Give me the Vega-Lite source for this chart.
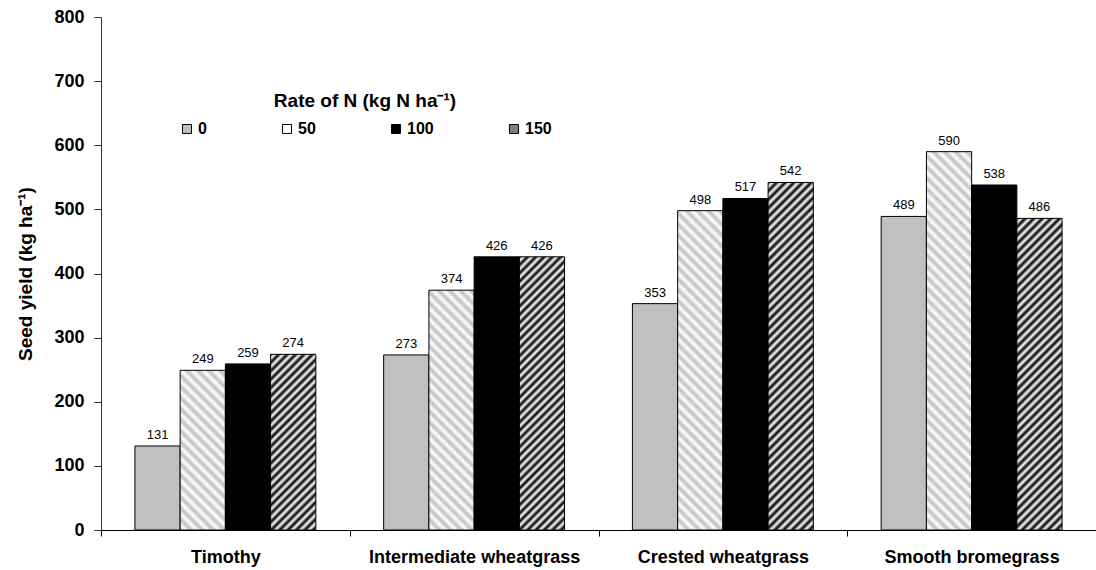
{
  "$schema": "https://vega.github.io/schema/vega-lite/v6.json",
  "width": 995,
  "height": 513,
  "autosize": "none",
  "padding": {"left": 101, "top": 17, "right": 0, "bottom": 40},
  "background": "white",
  "config": {"view": {"stroke": null}, "font": "Liberation Sans"},
  "data": {"values": [
    {"grass": "Timothy", "rate": "0", "yield": 131},
    {"grass": "Timothy", "rate": "50", "yield": 249},
    {"grass": "Timothy", "rate": "100", "yield": 259},
    {"grass": "Timothy", "rate": "150", "yield": 274},
    {"grass": "Intermediate wheatgrass", "rate": "0", "yield": 273},
    {"grass": "Intermediate wheatgrass", "rate": "50", "yield": 374},
    {"grass": "Intermediate wheatgrass", "rate": "100", "yield": 426},
    {"grass": "Intermediate wheatgrass", "rate": "150", "yield": 426},
    {"grass": "Crested wheatgrass", "rate": "0", "yield": 353},
    {"grass": "Crested wheatgrass", "rate": "50", "yield": 498},
    {"grass": "Crested wheatgrass", "rate": "100", "yield": 517},
    {"grass": "Crested wheatgrass", "rate": "150", "yield": 542},
    {"grass": "Smooth bromegrass", "rate": "0", "yield": 489},
    {"grass": "Smooth bromegrass", "rate": "50", "yield": 590},
    {"grass": "Smooth bromegrass", "rate": "100", "yield": 538},
    {"grass": "Smooth bromegrass", "rate": "150", "yield": 486}
  ]},
  "encoding": {
    "x": {
      "field": "grass", "type": "nominal",
      "sort": ["Timothy", "Intermediate wheatgrass", "Crested wheatgrass", "Smooth bromegrass"],
      "scale": {"paddingInner": 0, "paddingOuter": 0},
      "axis": {"title": null, "labelAngle": 0, "labelFontSize": 18, "labelFontWeight": "bold", "labelColor": "#000", "labelPadding": 12, "tickBand": "extent", "tickSize": 6, "tickColor": "#000", "domainColor": "#000", "labelLimit": 400}
    },
    "xOffset": {"field": "rate", "type": "nominal", "sort": ["0", "50", "100", "150"], "scale": {"paddingInner": 0, "paddingOuter": 0.75}},
    "y": {
      "field": "yield", "type": "quantitative",
      "scale": {"domain": [0, 800], "nice": false},
      "axis": {"title": "Seed yield (kg ha⁻¹)", "titleFontSize": 19, "titleFontWeight": "bold", "titleColor": "#000", "titlePadding": 18, "values": [0, 100, 200, 300, 400, 500, 600, 700, 800], "grid": false, "labelFontSize": 18, "labelFontWeight": "bold", "labelColor": "#000", "tickSize": 7, "labelPadding": 10, "tickColor": "#333", "domainColor": "#333"}
    }
  },
  "layer": [
    {
      "mark": {"type": "bar", "stroke": "#000", "strokeWidth": 1},
      "encoding": {
        "fill": {
          "condition": [
            {"test": "datum.grass==='Timothy'&&datum.rate==='50'", "value": {"gradient": "linear", "x1": 0, "y1": 1, "x2": 0.3365, "y2": -0.188, "stops": [
              {"offset":0,"color":"#c0c0c0"},{"offset":0.027,"color":"#fff"},{"offset":0.054,"color":"#c0c0c0"},{"offset":0.081,"color":"#fff"},{"offset":0.108,"color":"#c0c0c0"},{"offset":0.135,"color":"#fff"},{"offset":0.162,"color":"#c0c0c0"},{"offset":0.189,"color":"#fff"},{"offset":0.216,"color":"#c0c0c0"},{"offset":0.243,"color":"#fff"},{"offset":0.27,"color":"#c0c0c0"},{"offset":0.297,"color":"#fff"},{"offset":0.324,"color":"#c0c0c0"},{"offset":0.351,"color":"#fff"},{"offset":0.378,"color":"#c0c0c0"},{"offset":0.405,"color":"#fff"},{"offset":0.432,"color":"#c0c0c0"},{"offset":0.459,"color":"#fff"},{"offset":0.486,"color":"#c0c0c0"},{"offset":0.513,"color":"#fff"},{"offset":0.54,"color":"#c0c0c0"},{"offset":0.567,"color":"#fff"},{"offset":0.594,"color":"#c0c0c0"},{"offset":0.621,"color":"#fff"},{"offset":0.648,"color":"#c0c0c0"},{"offset":0.675,"color":"#fff"},{"offset":0.702,"color":"#c0c0c0"},{"offset":0.729,"color":"#fff"},{"offset":0.756,"color":"#c0c0c0"},{"offset":0.783,"color":"#fff"},{"offset":0.81,"color":"#c0c0c0"},{"offset":0.837,"color":"#fff"},{"offset":0.864,"color":"#c0c0c0"},{"offset":0.891,"color":"#fff"},{"offset":0.918,"color":"#c0c0c0"},{"offset":0.945,"color":"#fff"},{"offset":0.972,"color":"#c0c0c0"},{"offset":0.999,"color":"#fff"},{"offset":1,"color":"#fff"}
            ]}},
            {"test": "datum.grass==='Intermediate wheatgrass'&&datum.rate==='50'", "value": {"gradient": "linear", "x1": 0, "y1": 1, "x2": 0.2165, "y2": -0.1478, "stops": [
              {"offset":0,"color":"#c0c0c0"},{"offset":0.019,"color":"#fff"},{"offset":0.038,"color":"#c0c0c0"},{"offset":0.057,"color":"#fff"},{"offset":0.076,"color":"#c0c0c0"},{"offset":0.095,"color":"#fff"},{"offset":0.114,"color":"#c0c0c0"},{"offset":0.133,"color":"#fff"},{"offset":0.152,"color":"#c0c0c0"},{"offset":0.171,"color":"#fff"},{"offset":0.19,"color":"#c0c0c0"},{"offset":0.209,"color":"#fff"},{"offset":0.228,"color":"#c0c0c0"},{"offset":0.247,"color":"#fff"},{"offset":0.266,"color":"#c0c0c0"},{"offset":0.285,"color":"#fff"},{"offset":0.304,"color":"#c0c0c0"},{"offset":0.323,"color":"#fff"},{"offset":0.342,"color":"#c0c0c0"},{"offset":0.361,"color":"#fff"},{"offset":0.38,"color":"#c0c0c0"},{"offset":0.399,"color":"#fff"},{"offset":0.418,"color":"#c0c0c0"},{"offset":0.437,"color":"#fff"},{"offset":0.456,"color":"#c0c0c0"},{"offset":0.475,"color":"#fff"},{"offset":0.494,"color":"#c0c0c0"},{"offset":0.513,"color":"#fff"},{"offset":0.532,"color":"#c0c0c0"},{"offset":0.551,"color":"#fff"},{"offset":0.57,"color":"#c0c0c0"},{"offset":0.589,"color":"#fff"},{"offset":0.608,"color":"#c0c0c0"},{"offset":0.627,"color":"#fff"},{"offset":0.646,"color":"#c0c0c0"},{"offset":0.665,"color":"#fff"},{"offset":0.684,"color":"#c0c0c0"},{"offset":0.703,"color":"#fff"},{"offset":0.722,"color":"#c0c0c0"},{"offset":0.741,"color":"#fff"},{"offset":0.76,"color":"#c0c0c0"},{"offset":0.779,"color":"#fff"},{"offset":0.798,"color":"#c0c0c0"},{"offset":0.817,"color":"#fff"},{"offset":0.836,"color":"#c0c0c0"},{"offset":0.855,"color":"#fff"},{"offset":0.874,"color":"#c0c0c0"},{"offset":0.893,"color":"#fff"},{"offset":0.912,"color":"#c0c0c0"},{"offset":0.931,"color":"#fff"},{"offset":0.95,"color":"#c0c0c0"},{"offset":0.969,"color":"#fff"},{"offset":0.988,"color":"#c0c0c0"},{"offset":1,"color":"#fff"}
            ]}},
            {"test": "datum.grass==='Crested wheatgrass'&&datum.rate==='50'", "value": {"gradient": "linear", "x1": 0, "y1": 1, "x2": 0.1585, "y2": -0.1192, "stops": [
              {"offset":0,"color":"#c0c0c0"},{"offset":0.015,"color":"#fff"},{"offset":0.03,"color":"#c0c0c0"},{"offset":0.045,"color":"#fff"},{"offset":0.06,"color":"#c0c0c0"},{"offset":0.075,"color":"#fff"},{"offset":0.09,"color":"#c0c0c0"},{"offset":0.105,"color":"#fff"},{"offset":0.12,"color":"#c0c0c0"},{"offset":0.135,"color":"#fff"},{"offset":0.15,"color":"#c0c0c0"},{"offset":0.165,"color":"#fff"},{"offset":0.18,"color":"#c0c0c0"},{"offset":0.195,"color":"#fff"},{"offset":0.21,"color":"#c0c0c0"},{"offset":0.225,"color":"#fff"},{"offset":0.24,"color":"#c0c0c0"},{"offset":0.255,"color":"#fff"},{"offset":0.27,"color":"#c0c0c0"},{"offset":0.285,"color":"#fff"},{"offset":0.3,"color":"#c0c0c0"},{"offset":0.315,"color":"#fff"},{"offset":0.33,"color":"#c0c0c0"},{"offset":0.345,"color":"#fff"},{"offset":0.36,"color":"#c0c0c0"},{"offset":0.375,"color":"#fff"},{"offset":0.39,"color":"#c0c0c0"},{"offset":0.405,"color":"#fff"},{"offset":0.42,"color":"#c0c0c0"},{"offset":0.435,"color":"#fff"},{"offset":0.45,"color":"#c0c0c0"},{"offset":0.465,"color":"#fff"},{"offset":0.48,"color":"#c0c0c0"},{"offset":0.495,"color":"#fff"},{"offset":0.51,"color":"#c0c0c0"},{"offset":0.525,"color":"#fff"},{"offset":0.54,"color":"#c0c0c0"},{"offset":0.555,"color":"#fff"},{"offset":0.57,"color":"#c0c0c0"},{"offset":0.585,"color":"#fff"},{"offset":0.6,"color":"#c0c0c0"},{"offset":0.615,"color":"#fff"},{"offset":0.63,"color":"#c0c0c0"},{"offset":0.645,"color":"#fff"},{"offset":0.66,"color":"#c0c0c0"},{"offset":0.675,"color":"#fff"},{"offset":0.69,"color":"#c0c0c0"},{"offset":0.705,"color":"#fff"},{"offset":0.72,"color":"#c0c0c0"},{"offset":0.735,"color":"#fff"},{"offset":0.75,"color":"#c0c0c0"},{"offset":0.765,"color":"#fff"},{"offset":0.78,"color":"#c0c0c0"},{"offset":0.795,"color":"#fff"},{"offset":0.81,"color":"#c0c0c0"},{"offset":0.825,"color":"#fff"},{"offset":0.84,"color":"#c0c0c0"},{"offset":0.855,"color":"#fff"},{"offset":0.87,"color":"#c0c0c0"},{"offset":0.885,"color":"#fff"},{"offset":0.9,"color":"#c0c0c0"},{"offset":0.915,"color":"#fff"},{"offset":0.93,"color":"#c0c0c0"},{"offset":0.945,"color":"#fff"},{"offset":0.96,"color":"#c0c0c0"},{"offset":0.975,"color":"#fff"},{"offset":0.99,"color":"#c0c0c0"},{"offset":1,"color":"#fff"}
            ]}},
            {"test": "datum.grass==='Smooth bromegrass'&&datum.rate==='50'", "value": {"gradient": "linear", "x1": 0, "y1": 1, "x2": 0.132, "y2": -0.1038, "stops": [
              {"offset":0,"color":"#c0c0c0"},{"offset":0.013,"color":"#fff"},{"offset":0.026,"color":"#c0c0c0"},{"offset":0.039,"color":"#fff"},{"offset":0.052,"color":"#c0c0c0"},{"offset":0.065,"color":"#fff"},{"offset":0.078,"color":"#c0c0c0"},{"offset":0.091,"color":"#fff"},{"offset":0.104,"color":"#c0c0c0"},{"offset":0.117,"color":"#fff"},{"offset":0.13,"color":"#c0c0c0"},{"offset":0.143,"color":"#fff"},{"offset":0.156,"color":"#c0c0c0"},{"offset":0.169,"color":"#fff"},{"offset":0.182,"color":"#c0c0c0"},{"offset":0.195,"color":"#fff"},{"offset":0.208,"color":"#c0c0c0"},{"offset":0.221,"color":"#fff"},{"offset":0.234,"color":"#c0c0c0"},{"offset":0.247,"color":"#fff"},{"offset":0.26,"color":"#c0c0c0"},{"offset":0.273,"color":"#fff"},{"offset":0.286,"color":"#c0c0c0"},{"offset":0.299,"color":"#fff"},{"offset":0.312,"color":"#c0c0c0"},{"offset":0.325,"color":"#fff"},{"offset":0.338,"color":"#c0c0c0"},{"offset":0.351,"color":"#fff"},{"offset":0.364,"color":"#c0c0c0"},{"offset":0.377,"color":"#fff"},{"offset":0.39,"color":"#c0c0c0"},{"offset":0.403,"color":"#fff"},{"offset":0.416,"color":"#c0c0c0"},{"offset":0.429,"color":"#fff"},{"offset":0.442,"color":"#c0c0c0"},{"offset":0.455,"color":"#fff"},{"offset":0.468,"color":"#c0c0c0"},{"offset":0.481,"color":"#fff"},{"offset":0.494,"color":"#c0c0c0"},{"offset":0.507,"color":"#fff"},{"offset":0.52,"color":"#c0c0c0"},{"offset":0.533,"color":"#fff"},{"offset":0.546,"color":"#c0c0c0"},{"offset":0.559,"color":"#fff"},{"offset":0.572,"color":"#c0c0c0"},{"offset":0.585,"color":"#fff"},{"offset":0.598,"color":"#c0c0c0"},{"offset":0.611,"color":"#fff"},{"offset":0.624,"color":"#c0c0c0"},{"offset":0.637,"color":"#fff"},{"offset":0.65,"color":"#c0c0c0"},{"offset":0.663,"color":"#fff"},{"offset":0.676,"color":"#c0c0c0"},{"offset":0.689,"color":"#fff"},{"offset":0.702,"color":"#c0c0c0"},{"offset":0.715,"color":"#fff"},{"offset":0.728,"color":"#c0c0c0"},{"offset":0.741,"color":"#fff"},{"offset":0.754,"color":"#c0c0c0"},{"offset":0.767,"color":"#fff"},{"offset":0.78,"color":"#c0c0c0"},{"offset":0.793,"color":"#fff"},{"offset":0.806,"color":"#c0c0c0"},{"offset":0.819,"color":"#fff"},{"offset":0.832,"color":"#c0c0c0"},{"offset":0.845,"color":"#fff"},{"offset":0.858,"color":"#c0c0c0"},{"offset":0.871,"color":"#fff"},{"offset":0.884,"color":"#c0c0c0"},{"offset":0.897,"color":"#fff"},{"offset":0.91,"color":"#c0c0c0"},{"offset":0.923,"color":"#fff"},{"offset":0.936,"color":"#c0c0c0"},{"offset":0.949,"color":"#fff"},{"offset":0.962,"color":"#c0c0c0"},{"offset":0.975,"color":"#fff"},{"offset":0.988,"color":"#c0c0c0"},{"offset":1,"color":"#fff"}
            ]}},
            {"test": "datum.grass==='Timothy'&&datum.rate==='150'", "value": {"gradient": "linear", "x1": 0, "y1": 0, "x2": 0.3036, "y2": 1.1793, "stops": [
              {"offset":0,"color":"#000"},{"offset":0.019,"color":"#fff"},{"offset":0.038,"color":"#000"},{"offset":0.057,"color":"#fff"},{"offset":0.076,"color":"#000"},{"offset":0.095,"color":"#fff"},{"offset":0.114,"color":"#000"},{"offset":0.133,"color":"#fff"},{"offset":0.152,"color":"#000"},{"offset":0.171,"color":"#fff"},{"offset":0.19,"color":"#000"},{"offset":0.209,"color":"#fff"},{"offset":0.228,"color":"#000"},{"offset":0.247,"color":"#fff"},{"offset":0.266,"color":"#000"},{"offset":0.285,"color":"#fff"},{"offset":0.304,"color":"#000"},{"offset":0.323,"color":"#fff"},{"offset":0.342,"color":"#000"},{"offset":0.361,"color":"#fff"},{"offset":0.38,"color":"#000"},{"offset":0.399,"color":"#fff"},{"offset":0.418,"color":"#000"},{"offset":0.437,"color":"#fff"},{"offset":0.456,"color":"#000"},{"offset":0.475,"color":"#fff"},{"offset":0.494,"color":"#000"},{"offset":0.513,"color":"#fff"},{"offset":0.532,"color":"#000"},{"offset":0.551,"color":"#fff"},{"offset":0.57,"color":"#000"},{"offset":0.589,"color":"#fff"},{"offset":0.608,"color":"#000"},{"offset":0.627,"color":"#fff"},{"offset":0.646,"color":"#000"},{"offset":0.665,"color":"#fff"},{"offset":0.684,"color":"#000"},{"offset":0.703,"color":"#fff"},{"offset":0.722,"color":"#000"},{"offset":0.741,"color":"#fff"},{"offset":0.76,"color":"#000"},{"offset":0.779,"color":"#fff"},{"offset":0.798,"color":"#000"},{"offset":0.817,"color":"#fff"},{"offset":0.836,"color":"#000"},{"offset":0.855,"color":"#fff"},{"offset":0.874,"color":"#000"},{"offset":0.893,"color":"#fff"},{"offset":0.912,"color":"#000"},{"offset":0.931,"color":"#fff"},{"offset":0.95,"color":"#000"},{"offset":0.969,"color":"#fff"},{"offset":0.988,"color":"#000"},{"offset":1,"color":"#fff"}
            ]}},
            {"test": "datum.grass==='Intermediate wheatgrass'&&datum.rate==='150'", "value": {"gradient": "linear", "x1": 0, "y1": 0, "x2": 0.1878, "y2": 1.1345, "stops": [
              {"offset":0,"color":"#000"},{"offset":0.013,"color":"#fff"},{"offset":0.026,"color":"#000"},{"offset":0.039,"color":"#fff"},{"offset":0.052,"color":"#000"},{"offset":0.065,"color":"#fff"},{"offset":0.078,"color":"#000"},{"offset":0.091,"color":"#fff"},{"offset":0.104,"color":"#000"},{"offset":0.117,"color":"#fff"},{"offset":0.13,"color":"#000"},{"offset":0.143,"color":"#fff"},{"offset":0.156,"color":"#000"},{"offset":0.169,"color":"#fff"},{"offset":0.182,"color":"#000"},{"offset":0.195,"color":"#fff"},{"offset":0.208,"color":"#000"},{"offset":0.221,"color":"#fff"},{"offset":0.234,"color":"#000"},{"offset":0.247,"color":"#fff"},{"offset":0.26,"color":"#000"},{"offset":0.273,"color":"#fff"},{"offset":0.286,"color":"#000"},{"offset":0.299,"color":"#fff"},{"offset":0.312,"color":"#000"},{"offset":0.325,"color":"#fff"},{"offset":0.338,"color":"#000"},{"offset":0.351,"color":"#fff"},{"offset":0.364,"color":"#000"},{"offset":0.377,"color":"#fff"},{"offset":0.39,"color":"#000"},{"offset":0.403,"color":"#fff"},{"offset":0.416,"color":"#000"},{"offset":0.429,"color":"#fff"},{"offset":0.442,"color":"#000"},{"offset":0.455,"color":"#fff"},{"offset":0.468,"color":"#000"},{"offset":0.481,"color":"#fff"},{"offset":0.494,"color":"#000"},{"offset":0.507,"color":"#fff"},{"offset":0.52,"color":"#000"},{"offset":0.533,"color":"#fff"},{"offset":0.546,"color":"#000"},{"offset":0.559,"color":"#fff"},{"offset":0.572,"color":"#000"},{"offset":0.585,"color":"#fff"},{"offset":0.598,"color":"#000"},{"offset":0.611,"color":"#fff"},{"offset":0.624,"color":"#000"},{"offset":0.637,"color":"#fff"},{"offset":0.65,"color":"#000"},{"offset":0.663,"color":"#fff"},{"offset":0.676,"color":"#000"},{"offset":0.689,"color":"#fff"},{"offset":0.702,"color":"#000"},{"offset":0.715,"color":"#fff"},{"offset":0.728,"color":"#000"},{"offset":0.741,"color":"#fff"},{"offset":0.754,"color":"#000"},{"offset":0.767,"color":"#fff"},{"offset":0.78,"color":"#000"},{"offset":0.793,"color":"#fff"},{"offset":0.806,"color":"#000"},{"offset":0.819,"color":"#fff"},{"offset":0.832,"color":"#000"},{"offset":0.845,"color":"#fff"},{"offset":0.858,"color":"#000"},{"offset":0.871,"color":"#fff"},{"offset":0.884,"color":"#000"},{"offset":0.897,"color":"#fff"},{"offset":0.91,"color":"#000"},{"offset":0.923,"color":"#fff"},{"offset":0.936,"color":"#000"},{"offset":0.949,"color":"#fff"},{"offset":0.962,"color":"#000"},{"offset":0.975,"color":"#fff"},{"offset":0.988,"color":"#000"},{"offset":1,"color":"#fff"}
            ]}},
            {"test": "datum.grass==='Crested wheatgrass'&&datum.rate==='150'", "value": {"gradient": "linear", "x1": 0, "y1": 0, "x2": 0.1446, "y2": 1.1113, "stops": [
              {"offset":0,"color":"#000"},{"offset":0.011,"color":"#fff"},{"offset":0.022,"color":"#000"},{"offset":0.033,"color":"#fff"},{"offset":0.044,"color":"#000"},{"offset":0.055,"color":"#fff"},{"offset":0.066,"color":"#000"},{"offset":0.077,"color":"#fff"},{"offset":0.088,"color":"#000"},{"offset":0.099,"color":"#fff"},{"offset":0.11,"color":"#000"},{"offset":0.121,"color":"#fff"},{"offset":0.132,"color":"#000"},{"offset":0.143,"color":"#fff"},{"offset":0.154,"color":"#000"},{"offset":0.165,"color":"#fff"},{"offset":0.176,"color":"#000"},{"offset":0.187,"color":"#fff"},{"offset":0.198,"color":"#000"},{"offset":0.209,"color":"#fff"},{"offset":0.22,"color":"#000"},{"offset":0.231,"color":"#fff"},{"offset":0.242,"color":"#000"},{"offset":0.253,"color":"#fff"},{"offset":0.264,"color":"#000"},{"offset":0.275,"color":"#fff"},{"offset":0.286,"color":"#000"},{"offset":0.297,"color":"#fff"},{"offset":0.308,"color":"#000"},{"offset":0.319,"color":"#fff"},{"offset":0.33,"color":"#000"},{"offset":0.341,"color":"#fff"},{"offset":0.352,"color":"#000"},{"offset":0.363,"color":"#fff"},{"offset":0.374,"color":"#000"},{"offset":0.385,"color":"#fff"},{"offset":0.396,"color":"#000"},{"offset":0.407,"color":"#fff"},{"offset":0.418,"color":"#000"},{"offset":0.429,"color":"#fff"},{"offset":0.44,"color":"#000"},{"offset":0.451,"color":"#fff"},{"offset":0.462,"color":"#000"},{"offset":0.473,"color":"#fff"},{"offset":0.484,"color":"#000"},{"offset":0.495,"color":"#fff"},{"offset":0.506,"color":"#000"},{"offset":0.517,"color":"#fff"},{"offset":0.528,"color":"#000"},{"offset":0.539,"color":"#fff"},{"offset":0.55,"color":"#000"},{"offset":0.561,"color":"#fff"},{"offset":0.572,"color":"#000"},{"offset":0.583,"color":"#fff"},{"offset":0.594,"color":"#000"},{"offset":0.605,"color":"#fff"},{"offset":0.616,"color":"#000"},{"offset":0.627,"color":"#fff"},{"offset":0.638,"color":"#000"},{"offset":0.649,"color":"#fff"},{"offset":0.66,"color":"#000"},{"offset":0.671,"color":"#fff"},{"offset":0.682,"color":"#000"},{"offset":0.693,"color":"#fff"},{"offset":0.704,"color":"#000"},{"offset":0.715,"color":"#fff"},{"offset":0.726,"color":"#000"},{"offset":0.737,"color":"#fff"},{"offset":0.748,"color":"#000"},{"offset":0.759,"color":"#fff"},{"offset":0.77,"color":"#000"},{"offset":0.781,"color":"#fff"},{"offset":0.792,"color":"#000"},{"offset":0.803,"color":"#fff"},{"offset":0.814,"color":"#000"},{"offset":0.825,"color":"#fff"},{"offset":0.836,"color":"#000"},{"offset":0.847,"color":"#fff"},{"offset":0.858,"color":"#000"},{"offset":0.869,"color":"#fff"},{"offset":0.88,"color":"#000"},{"offset":0.891,"color":"#fff"},{"offset":0.902,"color":"#000"},{"offset":0.913,"color":"#fff"},{"offset":0.924,"color":"#000"},{"offset":0.935,"color":"#fff"},{"offset":0.946,"color":"#000"},{"offset":0.957,"color":"#fff"},{"offset":0.968,"color":"#000"},{"offset":0.979,"color":"#fff"},{"offset":0.99,"color":"#000"},{"offset":1,"color":"#fff"}
            ]}},
            {"test": "datum.grass==='Smooth bromegrass'&&datum.rate==='150'", "value": {"gradient": "linear", "x1": 0, "y1": 0, "x2": 0.1628, "y2": 1.1215, "stops": [
              {"offset":0,"color":"#000"},{"offset":0.012,"color":"#fff"},{"offset":0.024,"color":"#000"},{"offset":0.036,"color":"#fff"},{"offset":0.048,"color":"#000"},{"offset":0.06,"color":"#fff"},{"offset":0.072,"color":"#000"},{"offset":0.084,"color":"#fff"},{"offset":0.096,"color":"#000"},{"offset":0.108,"color":"#fff"},{"offset":0.12,"color":"#000"},{"offset":0.132,"color":"#fff"},{"offset":0.144,"color":"#000"},{"offset":0.156,"color":"#fff"},{"offset":0.168,"color":"#000"},{"offset":0.18,"color":"#fff"},{"offset":0.192,"color":"#000"},{"offset":0.204,"color":"#fff"},{"offset":0.216,"color":"#000"},{"offset":0.228,"color":"#fff"},{"offset":0.24,"color":"#000"},{"offset":0.252,"color":"#fff"},{"offset":0.264,"color":"#000"},{"offset":0.276,"color":"#fff"},{"offset":0.288,"color":"#000"},{"offset":0.3,"color":"#fff"},{"offset":0.312,"color":"#000"},{"offset":0.324,"color":"#fff"},{"offset":0.336,"color":"#000"},{"offset":0.348,"color":"#fff"},{"offset":0.36,"color":"#000"},{"offset":0.372,"color":"#fff"},{"offset":0.384,"color":"#000"},{"offset":0.396,"color":"#fff"},{"offset":0.408,"color":"#000"},{"offset":0.42,"color":"#fff"},{"offset":0.432,"color":"#000"},{"offset":0.444,"color":"#fff"},{"offset":0.456,"color":"#000"},{"offset":0.468,"color":"#fff"},{"offset":0.48,"color":"#000"},{"offset":0.492,"color":"#fff"},{"offset":0.504,"color":"#000"},{"offset":0.516,"color":"#fff"},{"offset":0.528,"color":"#000"},{"offset":0.54,"color":"#fff"},{"offset":0.552,"color":"#000"},{"offset":0.564,"color":"#fff"},{"offset":0.576,"color":"#000"},{"offset":0.588,"color":"#fff"},{"offset":0.6,"color":"#000"},{"offset":0.612,"color":"#fff"},{"offset":0.624,"color":"#000"},{"offset":0.636,"color":"#fff"},{"offset":0.648,"color":"#000"},{"offset":0.66,"color":"#fff"},{"offset":0.672,"color":"#000"},{"offset":0.684,"color":"#fff"},{"offset":0.696,"color":"#000"},{"offset":0.708,"color":"#fff"},{"offset":0.72,"color":"#000"},{"offset":0.732,"color":"#fff"},{"offset":0.744,"color":"#000"},{"offset":0.756,"color":"#fff"},{"offset":0.768,"color":"#000"},{"offset":0.78,"color":"#fff"},{"offset":0.792,"color":"#000"},{"offset":0.804,"color":"#fff"},{"offset":0.816,"color":"#000"},{"offset":0.828,"color":"#fff"},{"offset":0.84,"color":"#000"},{"offset":0.852,"color":"#fff"},{"offset":0.864,"color":"#000"},{"offset":0.876,"color":"#fff"},{"offset":0.888,"color":"#000"},{"offset":0.9,"color":"#fff"},{"offset":0.912,"color":"#000"},{"offset":0.924,"color":"#fff"},{"offset":0.936,"color":"#000"},{"offset":0.948,"color":"#fff"},{"offset":0.96,"color":"#000"},{"offset":0.972,"color":"#fff"},{"offset":0.984,"color":"#000"},{"offset":0.996,"color":"#fff"},{"offset":1,"color":"#fff"}
            ]}}
          ],
          "field": "rate", "type": "nominal",
          "sort": ["0", "50", "100", "150"],
          "scale": {"domain": ["0", "50", "100", "150"], "range": ["#c0c0c0", "#ffffff", "#000000", "#808080"]},
          "legend": {
            "orient": "none", "legendX": 78, "legendY": 75,
            "direction": "horizontal", "columns": 4, "gridAlign": "none", "columnPadding": 72,
            "title": "Rate of N (kg N ha⁻¹)", "titleFontSize": 19, "titleFontWeight": "bold", "titleColor": "#000", "titleAnchor": "middle", "titlePadding": 10, "titleLimit": 500,
            "labelFontSize": 16, "labelFontWeight": "bold", "labelColor": "#000", "labelOffset": 3,
            "symbolType": "square", "symbolSize": 80, "symbolStrokeColor": "#000", "symbolStrokeWidth": 1,
            "encode": {"symbols": {"update": {"stroke": {"value": "#000"}, "strokeWidth": {"value": 1}}}}
          }
        }
      }
    },
    {
      "mark": {"type": "text", "dy": -7, "fontSize": 13, "baseline": "alphabetic", "color": "#000"},
      "encoding": {"text": {"field": "yield", "type": "quantitative"}}
    }
  ]
}
